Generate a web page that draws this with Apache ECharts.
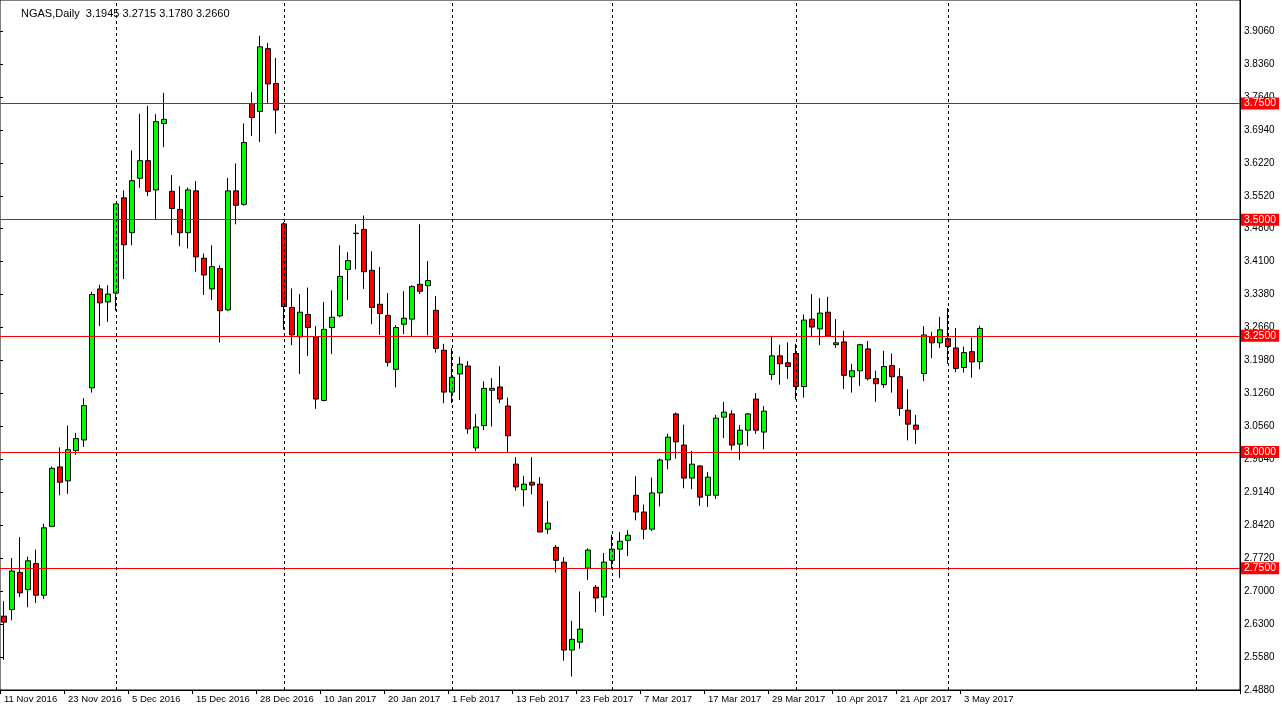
<!DOCTYPE html>
<html><head><meta charset="utf-8">
<script src="https://cdn.jsdelivr.net/npm/echarts@6/dist/echarts.min.js"></script>
<style>html,body{margin:0;padding:0;background:#fff}#c{width:1282px;height:714px}</style>
</head><body><div id="c"></div>
<script>
const opens=[2.647,2.661,2.741,2.704,2.760,2.692,2.840,2.968,2.938,3.003,
3.026,3.138,3.351,3.323,3.342,3.547,3.472,3.589,3.627,3.564,
3.707,3.561,3.522,3.472,3.562,3.417,3.351,3.395,3.306,3.562,
3.533,3.750,3.733,3.868,3.793,3.491,3.311,3.248,3.296,3.248,
3.111,3.268,3.293,3.393,3.470,3.479,3.391,3.318,3.294,3.178,
3.275,3.286,3.361,3.358,3.305,3.219,3.129,3.168,3.185,3.009,
3.057,3.133,3.140,3.099,2.974,2.919,2.935,2.931,2.834,2.795,
2.763,2.574,2.591,2.750,2.709,2.688,2.767,2.791,2.810,2.907,
2.871,2.834,2.912,2.983,3.082,3.015,2.944,2.970,2.907,2.907,
3.075,3.082,3.017,3.047,3.114,3.043,3.167,3.207,3.192,3.212,
3.141,3.286,3.265,3.301,3.231,3.237,3.162,3.175,3.222,3.158,
3.145,3.186,3.162,3.090,3.058,3.169,3.248,3.235,3.244,3.224,
3.182,3.216,3.1945];
const closes=[2.634,2.744,2.697,2.766,2.692,2.837,2.965,2.935,3.005,3.029,
3.100,3.339,3.321,3.340,3.534,3.446,3.584,3.627,3.561,3.711,
3.716,3.524,3.472,3.564,3.420,3.381,3.399,3.304,3.562,3.531,
3.666,3.720,3.872,3.792,3.736,3.313,3.252,3.301,3.268,3.114,
3.264,3.290,3.378,3.412,3.471,3.388,3.311,3.298,3.193,3.268,
3.288,3.356,3.346,3.369,3.223,3.129,3.161,3.189,3.050,3.054,
3.137,3.137,3.114,3.035,2.925,2.931,2.929,2.828,2.847,2.767,
2.574,2.597,2.619,2.789,2.686,2.763,2.791,2.808,2.821,2.871,
2.834,2.912,2.983,3.032,3.022,2.944,2.974,2.903,2.946,3.073,
3.086,3.015,3.047,3.082,3.047,3.088,3.207,3.190,3.184,3.141,
3.284,3.269,3.299,3.250,3.235,3.165,3.175,3.231,3.158,3.147,
3.184,3.162,3.094,3.060,3.049,3.252,3.235,3.263,3.227,3.180,
3.214,3.194,3.266];
const highs=[2.679,2.772,2.817,2.775,2.790,2.846,2.969,3.010,3.057,3.041,
3.116,3.345,3.360,3.359,3.534,3.563,3.649,3.728,3.745,3.727,
3.773,3.596,3.572,3.569,3.583,3.427,3.445,3.402,3.590,3.621,
3.707,3.774,3.896,3.880,3.848,3.495,3.352,3.340,3.354,3.271,
3.323,3.348,3.445,3.430,3.490,3.509,3.432,3.398,3.342,3.273,
3.346,3.359,3.490,3.411,3.336,3.233,3.223,3.205,3.196,3.082,
3.152,3.159,3.185,3.117,2.989,2.949,2.989,2.946,2.895,2.800,
2.774,2.637,2.700,2.793,2.714,2.783,2.822,2.828,2.832,2.948,
2.887,2.945,2.986,3.039,3.085,3.059,3.003,2.972,2.957,3.080,
3.108,3.090,3.058,3.084,3.127,3.099,3.250,3.231,3.236,3.233,
3.296,3.340,3.331,3.334,3.286,3.261,3.190,3.233,3.239,3.175,
3.218,3.212,3.180,3.135,3.080,3.271,3.259,3.291,3.310,3.267,
3.227,3.246,3.2715];
const lows=[2.553,2.638,2.688,2.666,2.675,2.684,2.840,2.907,2.910,2.994,
3.011,3.128,3.271,3.280,3.304,3.372,3.445,3.569,3.551,3.500,
3.656,3.467,3.443,3.438,3.388,3.338,3.327,3.236,3.304,3.490,
3.530,3.680,3.667,3.751,3.685,3.263,3.230,3.168,3.207,3.093,
3.109,3.211,3.290,3.327,3.393,3.351,3.275,3.252,3.184,3.139,
3.254,3.248,3.340,3.251,3.214,3.105,3.105,3.112,3.039,3.002,
3.047,3.055,3.105,3.000,2.917,2.883,2.909,2.828,2.824,2.741,
2.551,2.517,2.577,2.725,2.655,2.648,2.748,2.729,2.776,2.853,
2.812,2.830,2.883,2.963,2.986,2.922,2.920,2.884,2.882,2.899,
3.030,3.004,2.983,3.013,3.039,3.006,3.155,3.145,3.157,3.113,
3.117,3.247,3.230,3.248,3.224,3.136,3.128,3.142,3.154,3.108,
3.138,3.128,3.078,3.025,3.017,3.153,3.202,3.224,3.190,3.172,
3.171,3.160,3.178];
const priceTicks=['2.4880','2.5580','2.6300','2.7000','2.7720','2.8420','2.9140','2.9840','3.0560','3.1260','3.1980','3.2660','3.3380','3.4100','3.4800','3.5520','3.6220','3.6940','3.7640','3.8360','3.9060'];
const levels=[3.75,3.5,3.25,3.0,2.75];
const lastPrice=3.266;
const gridSlots=[14,35,56,76,99,118,149];
const totalSlots=155;

const mon=['Jan','Feb','Mar','Apr','May','Jun','Jul','Aug','Sep','Oct','Nov','Dec'];
const skip=['2016-12-26','2017-01-02','2017-04-14'];
const cats=[];
let d=new Date(Date.UTC(2016,10,11));
while(cats.length<totalSlots){
  const wd=d.getUTCDay();
  const iso=d.toISOString().slice(0,10);
  if(wd!==0&&wd!==6&&skip.indexOf(iso)<0){cats.push(d.getUTCDate()+' '+mon[d.getUTCMonth()]+' '+d.getUTCFullYear());}
  d=new Date(d.getTime()+86400000);
}
const candles=opens.map((o,i)=>[o,closes[i],lows[i],highs[i]]);
const n=opens.length;
const showIdx=i=>i<n&&i%8===0;
const F='Liberation Sans';
const boxLabel=(txt,bg)=>({show:true,position:'end',distance:1,formatter:txt,backgroundColor:bg,color:'#fff',fontFamily:F,fontSize:10.5,padding:[1,3,0,3]});
const levelLines=levels.map(v=>({yAxis:v,lineStyle:{color:'#ff0000',width:1,type:'solid'},label:boxLabel(v.toFixed(4),'#ff0000')}));
levelLines.unshift({yAxis:lastPrice,lineStyle:{opacity:0},label:boxLabel(lastPrice.toFixed(4),'#000')});
const vLines=gridSlots.map(i=>({xAxis:cats[i],lineStyle:{color:'#000',width:1,type:[3,3]},label:{show:false}}));

const chart=echarts.init(document.getElementById('c'),null,{renderer:'canvas'});
chart.setOption({
  animation:false,
  backgroundColor:'#fff',
  title:{text:'NGAS,Daily  3.1945 3.2715 3.1780 3.2660',left:16,top:3,textStyle:{fontFamily:F,fontSize:11,fontWeight:'normal',color:'#000'}},
  grid:[{left:0,right:42,top:0,bottom:24,show:true,borderColor:'#000',borderWidth:1},
        {left:0,right:42,top:31,bottom:24,show:false}],
  xAxis:[{type:'category',data:cats,gridIndex:0,boundaryGap:true,
    axisLine:{lineStyle:{color:'#000'}},
    axisTick:{show:true,interval:(i)=>showIdx(i),length:4,lineStyle:{color:'#000'}},
    axisLabel:{interval:(i)=>showIdx(i),align:'left',margin:4,fontFamily:F,fontSize:9.5,color:'#000'},
    splitLine:{show:false}},
   {type:'value',gridIndex:1,show:false}],
  yAxis:[{type:'value',gridIndex:0,position:'right',min:2.488,max:3.9727,
    axisLine:{show:true,lineStyle:{color:'#000'}},axisTick:{show:false},axisLabel:{show:false},splitLine:{show:false}},
   {type:'category',gridIndex:1,position:'right',data:priceTicks,boundaryGap:false,
    axisLine:{show:false},axisTick:{show:true,length:3,lineStyle:{color:'#000'}},
    axisLabel:{margin:4,fontFamily:F,fontSize:10,color:'#000'},splitLine:{show:false}}],
  series:[{type:'candlestick',data:candles,xAxisIndex:0,yAxisIndex:0,barWidth:5,
    itemStyle:{color:'#00ff00',color0:'#ff0000',borderColor:'#000',borderColor0:'#000',borderWidth:1},
    markLine:{symbol:'none',silent:true,animation:false,data:levelLines.concat(vLines)}},
   {type:'line',xAxisIndex:1,yAxisIndex:1,data:[]}]
});
</script></body></html>
